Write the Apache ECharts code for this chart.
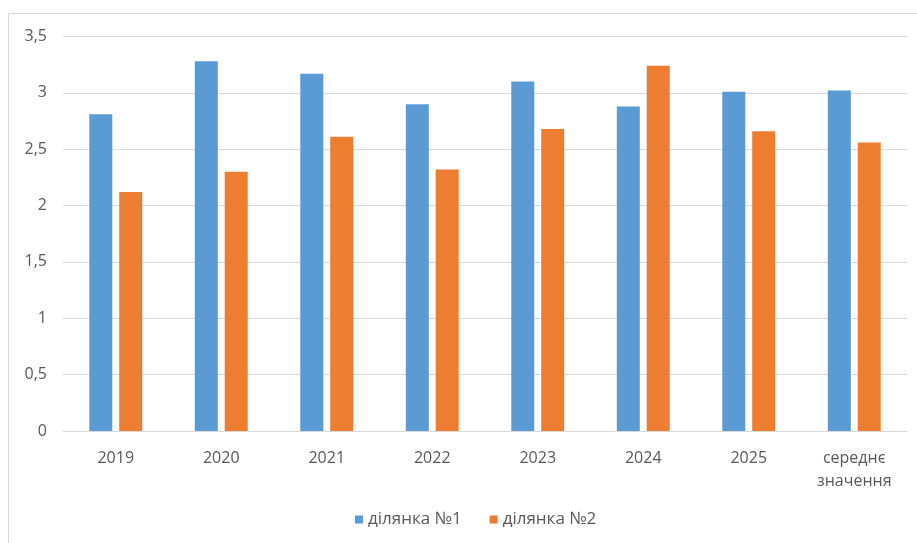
<!DOCTYPE html>
<html>
<head>
<meta charset="utf-8">
<script src="https://cdn.jsdelivr.net/npm/echarts@6/dist/echarts.min.js"></script>
<style>
  html, body { margin: 0; padding: 0; background: #ffffff; }
  #chart { width: 917px; height: 543px; }
</style>
</head>
<body>
<div id="chart"></div>
<script>
// Categories along the x axis
const categories = ['2019', '2020', '2021', '2022', '2023', '2024', '2025', 'середнє\nзначення'];
// Values for each plot
const plot1 = [2.81, 3.28, 3.17, 2.90, 3.10, 2.88, 3.01, 3.02];
const plot2 = [2.12, 2.30, 2.61, 2.32, 2.68, 3.24, 2.66, 2.56];
const seriesNames = ['ділянка №1', 'ділянка №2'];
// Y-axis range
const yMin = 0, yMax = 3.5, yStep = 0.5;

const fontFamily = '"Open Sans", "Liberation Sans", sans-serif';
const textColor = '#595959';

const chart = echarts.init(document.getElementById('chart'), null, { renderer: 'canvas' });
chart.setOption({
  animation: false,
  backgroundColor: '#ffffff',
  graphic: [{
    type: 'rect',
    shape: { x: 8.5, y: 13.5, width: 1000, height: 1000 },
    style: { fill: 'none', stroke: '#d9d9d9', lineWidth: 1 },
    silent: true
  }],
  grid: { left: 63, right: 10, top: 36.5, bottom: 112, containLabel: false },
  legend: {
    bottom: 10,
    left: 350,
    itemWidth: 8,
    itemHeight: 8,
    itemGap: 28,
    icon: 'rect',
    textStyle: { color: textColor, fontSize: 17, fontFamily: fontFamily },
    data: seriesNames
  },
  xAxis: {
    type: 'category',
    data: categories,
    axisLine: { lineStyle: { color: '#d9d9d9', width: 1 } },
    axisTick: { show: false },
    axisLabel: {
      color: textColor, fontSize: 16, fontFamily: fontFamily,
      margin: 16, lineHeight: 23, interval: 0
    }
  },
  yAxis: {
    type: 'value',
    min: yMin, max: yMax, interval: yStep,
    axisLine: { show: false },
    axisTick: { show: false },
    splitLine: { lineStyle: { color: '#d9d9d9', width: 1 } },
    axisLabel: {
      color: textColor, fontSize: 16, fontFamily: fontFamily, margin: 16,
      formatter: v => String(v).replace('.', ',')
    }
  },
  series: [
    {
      name: seriesNames[0], type: 'bar', data: plot1,
      barWidth: 23, barGap: '30%',
      itemStyle: { color: '#5b9bd5' }
    },
    {
      name: seriesNames[1], type: 'bar', data: plot2,
      barWidth: 23, barGap: '30%',
      itemStyle: { color: '#ed7d31' }
    }
  ]
});
</script>
</body>
</html>
